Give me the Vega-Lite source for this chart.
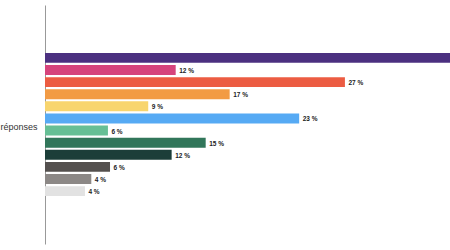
{
  "$schema": "https://vega.github.io/schema/vega-lite/v6.json",
  "autosize": "none",
  "padding": {"left": 45, "top": 5, "right": 0, "bottom": 6},
  "width": 405,
  "height": 239,
  "background": "white",
  "config": {"view": {"stroke": null}, "font": "Liberation Sans"},
  "data": {
    "values": [
      {"group": "Nombre de réponses", "item": "01", "value": 45.0, "label": "45 %"},
      {"group": "Nombre de réponses", "item": "02", "value": 11.94, "label": "12 %"},
      {"group": "Nombre de réponses", "item": "03", "value": 27.4, "label": "27 %"},
      {"group": "Nombre de réponses", "item": "04", "value": 16.87, "label": "17 %"},
      {"group": "Nombre de réponses", "item": "05", "value": 9.43, "label": "9 %"},
      {"group": "Nombre de réponses", "item": "06", "value": 23.22, "label": "23 %"},
      {"group": "Nombre de réponses", "item": "07", "value": 5.75, "label": "6 %"},
      {"group": "Nombre de réponses", "item": "08", "value": 14.68, "label": "15 %"},
      {"group": "Nombre de réponses", "item": "09", "value": 11.57, "label": "12 %"},
      {"group": "Nombre de réponses", "item": "10", "value": 5.94, "label": "6 %"},
      {"group": "Nombre de réponses", "item": "11", "value": 4.23, "label": "4 %"},
      {"group": "Nombre de réponses", "item": "12", "value": 3.65, "label": "4 %"}
    ]
  },
  "encoding": {
    "y": {
      "field": "group",
      "type": "nominal",
      "scale": {"paddingOuter": 0.335, "paddingInner": 0},
      "axis": {
        "title": null,
        "ticks": false,
        "labelFontSize": 9,
        "labelPadding": 8,
        "labelOffset": 2,
        "labelColor": "#333333",
        "domainColor": "#999999",
        "domainWidth": 1
      }
    },
    "yOffset": {
      "field": "item",
      "type": "nominal",
      "sort": "ascending",
      "scale": {"paddingInner": 0.18, "paddingOuter": 0}
    },
    "x": {
      "field": "value",
      "type": "quantitative",
      "scale": {"domain": [0, 37], "nice": false, "zero": true},
      "axis": null
    }
  },
  "layer": [
    {
      "mark": {"type": "bar", "clip": true},
      "encoding": {
        "color": {
          "field": "item",
          "type": "nominal",
          "legend": null,
          "scale": {
            "domain": ["01", "02", "03", "04", "05", "06", "07", "08", "09", "10", "11", "12"],
            "range": ["#4b3080", "#d6447c", "#ec5c42", "#f29b44", "#f8d56e", "#56aaf4", "#66bf95", "#31765a", "#1c3e39", "#54504e", "#8c8886", "#e2e2e2"]
          }
        }
      }
    },
    {
      "transform": [{"filter": "datum.value < 37"}],
      "mark": {
        "type": "text",
        "clip": true,
        "align": "left",
        "baseline": "middle",
        "dx": 3.5,
        "dy": 1,
        "fontSize": 6.5,
        "fontWeight": "bold",
        "color": "#222222"
      },
      "encoding": {
        "text": {"field": "label"}
      }
    }
  ]
}
